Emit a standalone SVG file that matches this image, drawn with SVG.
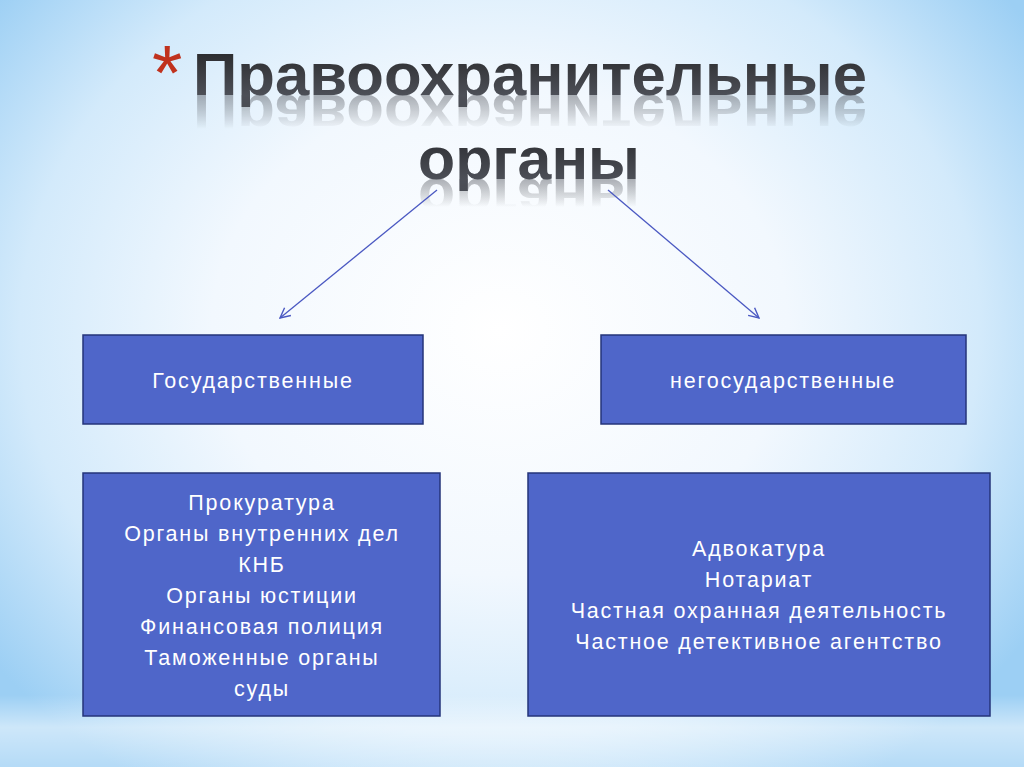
<svg xmlns="http://www.w3.org/2000/svg" xmlns:xlink="http://www.w3.org/1999/xlink" width="1024" height="767" viewBox="0 0 1024 767">
  <defs>
    <radialGradient id="bg" cx="500" cy="330" r="640" gradientUnits="userSpaceOnUse" gradientTransform="translate(500 330) scale(1 0.85) translate(-500 -330)">
      <stop offset="0" stop-color="#ffffff"/>
      <stop offset="0.45" stop-color="#f2f8fe"/>
      <stop offset="0.75" stop-color="#d3eafb"/>
      <stop offset="1" stop-color="#9ccff4"/>
    </radialGradient>
    <linearGradient id="band" x1="0" y1="0" x2="0" y2="1">
      <stop offset="0" stop-color="#ffffff" stop-opacity="0"/>
      <stop offset="0.45" stop-color="#ffffff" stop-opacity="0.5"/>
      <stop offset="1" stop-color="#ffffff" stop-opacity="0.25"/>
    </linearGradient>
    <linearGradient id="titleFill1" x1="0" y1="50" x2="0" y2="96" gradientUnits="userSpaceOnUse">
      <stop offset="0" stop-color="#2a2a2c"/>
      <stop offset="1" stop-color="#4d5058"/>
    </linearGradient>
    <linearGradient id="titleFill2" x1="0" y1="138" x2="0" y2="180" gradientUnits="userSpaceOnUse">
      <stop offset="0" stop-color="#2e2f33"/>
      <stop offset="1" stop-color="#4d5058"/>
    </linearGradient>
    <linearGradient id="fade" x1="0" y1="0" x2="0" y2="1">
      <stop offset="0" stop-color="#fff" stop-opacity="0.55"/>
      <stop offset="1" stop-color="#fff" stop-opacity="0"/>
    </linearGradient>
    <mask id="m1" maskUnits="userSpaceOnUse" x="0" y="95" width="1024" height="36">
      <rect x="0" y="95" width="1024" height="34" fill="url(#fade)"/>
    </mask>
    <mask id="m2" maskUnits="userSpaceOnUse" x="0" y="179" width="1024" height="30">
      <rect x="0" y="179" width="1024" height="28" fill="url(#fade)"/>
    </mask>
    <marker id="arr" viewBox="0 0 12 12" refX="11" refY="6" markerWidth="12" markerHeight="12" markerUnits="userSpaceOnUse" orient="auto">
      <path d="M1,1 L11,6 L1,11" fill="none" stroke="#4a58c2" stroke-width="1.4"/>
    </marker>
    <style>
      .title { font-family: "Liberation Sans", Arial, sans-serif; font-weight: bold; font-size: 60px; }
      .box { fill: #4f66c9; stroke: #25357a; stroke-width: 1.5; }
      .lbl { font-family: "Liberation Sans", Arial, sans-serif; font-size: 21.5px; fill: #ffffff; text-anchor: middle; letter-spacing: 1.8px; }
      .conn { stroke: #4a58c2; stroke-width: 1.3; fill: none; }
    </style>
  </defs>

  <rect x="0" y="0" width="1024" height="767" fill="url(#bg)"/>
  <rect x="0" y="695" width="1024" height="72" fill="url(#band)"/>

  <g id="title">
    <text x="152" y="100" font-family="Liberation Sans, Arial, sans-serif" font-size="78" fill="#c0321e">*</text>
    <text id="t1" class="title" x="193" y="95" textLength="674" lengthAdjust="spacingAndGlyphs" fill="url(#titleFill1)">Правоохранительные</text>
    <text id="t2" class="title" x="418" y="179" textLength="222" lengthAdjust="spacingAndGlyphs" fill="url(#titleFill2)">органы</text>
    <g mask="url(#m1)" opacity="0.8">
      <use xlink:href="#t1" transform="translate(0 190) scale(1 -1)"/>
    </g>
    <g mask="url(#m2)" opacity="0.8">
      <use xlink:href="#t2" transform="translate(0 358) scale(1 -1)"/>
    </g>
  </g>

  <g id="connectors">
    <line class="conn" x1="437" y1="190" x2="280" y2="318" marker-end="url(#arr)"/>
    <line class="conn" x1="608" y1="190" x2="759" y2="318" marker-end="url(#arr)"/>
  </g>

  <g id="node-state">
    <rect class="box" x="83" y="335" width="340" height="89"/>
    <text class="lbl" x="253" y="388">Государственные</text>
  </g>

  <g id="node-nonstate">
    <rect class="box" x="601" y="335" width="365" height="89"/>
    <text class="lbl" x="783" y="388">негосударственные</text>
  </g>

  <g id="node-state-list">
    <rect class="box" x="83" y="473" width="357" height="243"/>
    <text class="lbl" x="262" y="510">Прокуратура</text>
    <text class="lbl" x="262" y="541">Органы внутренних дел</text>
    <text class="lbl" x="262" y="572">КНБ</text>
    <text class="lbl" x="262" y="603">Органы юстиции</text>
    <text class="lbl" x="262" y="634">Финансовая полиция</text>
    <text class="lbl" x="262" y="665">Таможенные органы</text>
    <text class="lbl" x="262" y="696">суды</text>
  </g>

  <g id="node-nonstate-list">
    <rect class="box" x="528" y="473" width="462" height="243"/>
    <text class="lbl" x="759" y="556">Адвокатура</text>
    <text class="lbl" x="759" y="587">Нотариат</text>
    <text class="lbl" x="759" y="618">Частная охранная деятельность</text>
    <text class="lbl" x="759" y="649">Частное детективное агентство</text>
  </g>
</svg>
